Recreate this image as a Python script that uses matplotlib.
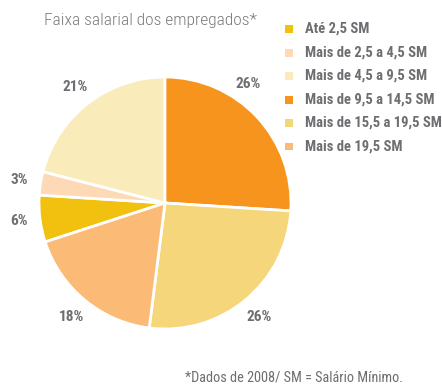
import matplotlib
matplotlib.use("Agg")
import matplotlib.pyplot as plt
from matplotlib.patches import Rectangle
import numpy as np

categories = ["Até 2,5 SM", "Mais de 2,5 a 4,5 SM", "Mais de 4,5 a 9,5 SM",
              "Mais de 9,5 a 14,5 SM", "Mais de 15,5 a 19,5 SM", "Mais de 19,5 SM"]
values = [6, 3, 21, 26, 26, 18]
colors = ["#F2C00E", "#FDDAB5", "#FAEBBB", "#F7941D", "#F6D67A", "#FBBB77"]
pct_labels = ["6%", "3%", "21%", "26%", "26%", "18%"]

title = "Faixa salarial dos empregados*"
footnote = "*Dados de 2008/ SM = Salário Mínimo."

W, H = 442, 387
fig = plt.figure(figsize=(W / 100, H / 100), dpi=100)
fig.patch.set_facecolor("white")

cond = ["Roboto Condensed", "DejaVu Sans"]
gray = "#6D6E71"

cx, cy, r = 165, 203, 126
ax = fig.add_axes([(cx - r) / W, (H - cy - r) / H, 2 * r / W, 2 * r / H])
wedges, texts = ax.pie(values, colors=colors, labels=pct_labels, startangle=-162,
                       counterclock=False, labeldistance=1.17,
                       wedgeprops=dict(edgecolor="white", linewidth=2),
                       textprops=dict(color=gray, fontsize=11, fontweight="bold",
                                      family=cond))
for t in texts:
    t.set_ha("center")
    t.set_va("center")
# the top-right label sits a bit higher in the original
ang = np.deg2rad(55)
texts[3].set_position((1.15 * np.cos(ang), 1.15 * np.sin(ang)))
ax.set_xlim(-1, 1)
ax.set_ylim(-1, 1)
ax.set_aspect("equal")
ax.axis("off")

fig.text(150 / W, 1 - 20 / H, title, fontsize=12.5, color="#7A7A7A",
         family=cond, fontweight="light", va="center", ha="center")

# legend
y0, dy = 29, 23.5
for i, (c, lab) in enumerate(zip(colors, categories)):
    y = y0 + i * dy
    fig.patches.append(Rectangle((285 / W, 1 - (y + 4) / H), 8 / W, 8 / H,
                                 transform=fig.transFigure, facecolor=c,
                                 edgecolor="none"))
    fig.text(305 / W, 1 - y / H, lab, fontsize=10.5, color=gray,
             fontweight="bold", family=cond, va="center", ha="left")

fig.text(403 / W, 1 - 377 / H, footnote, fontsize=10.3, color=gray,
         family=cond, va="center", ha="right")

fig.savefig("out.png", dpi=100)
